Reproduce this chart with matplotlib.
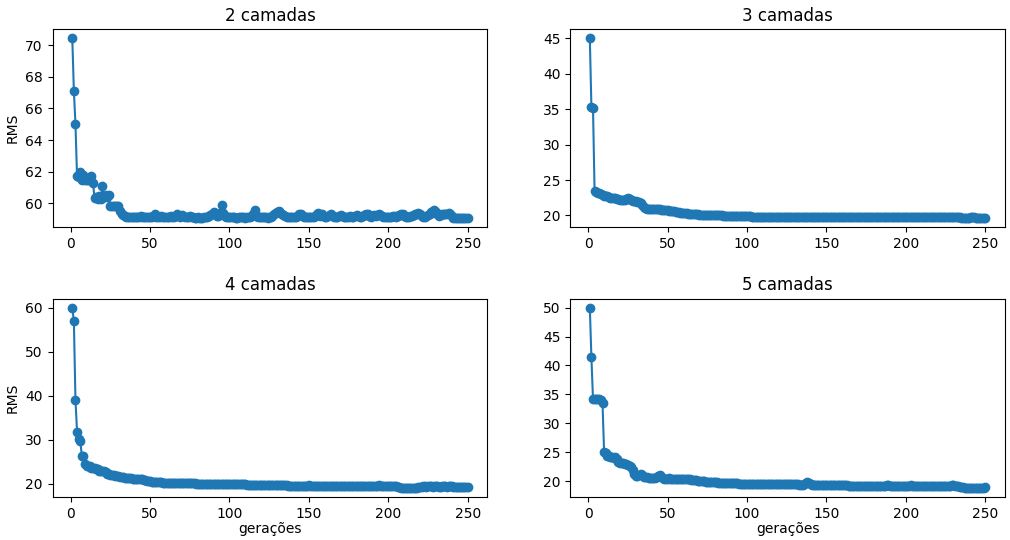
import matplotlib
matplotlib.use("Agg")
import matplotlib.pyplot as plt

geracoes = list(range(1, 251))

titulos = ['2 camadas', '3 camadas', '4 camadas', '5 camadas']

rms_2 = [
    70.45, 67.1, 65.0, 61.7, 61.65, 61.95, 61.5, 61.8, 61.5, 61.45,
    61.5, 61.6, 61.7, 61.3, 60.35, 60.4, 60.3, 60.45, 60.3, 61.1,
    60.4, 60.5, 60.4, 60.5, 59.8, 59.85, 59.8, 59.8, 59.85, 59.8,
    59.5, 59.35, 59.25, 59.2, 59.15, 59.15, 59.15, 59.15, 59.15, 59.15,
    59.15, 59.15, 59.15, 59.2, 59.15, 59.15, 59.15, 59.15, 59.15, 59.15,
    59.15, 59.2, 59.3, 59.15, 59.15, 59.15, 59.2, 59.15, 59.15, 59.15,
    59.15, 59.15, 59.2, 59.15, 59.15, 59.2, 59.3, 59.2, 59.15, 59.25,
    59.2, 59.15, 59.15, 59.15, 59.2, 59.15, 59.15, 59.1, 59.1, 59.15,
    59.1, 59.1, 59.1, 59.15, 59.15, 59.15, 59.2, 59.25, 59.3, 59.45,
    59.3, 59.2, 59.2, 59.4, 59.9, 59.4, 59.2, 59.15, 59.15, 59.15,
    59.15, 59.15, 59.15, 59.1, 59.1, 59.15, 59.15, 59.15, 59.15, 59.1,
    59.15, 59.15, 59.15, 59.2, 59.35, 59.6, 59.2, 59.15, 59.15, 59.15,
    59.15, 59.15, 59.15, 59.1, 59.15, 59.15, 59.2, 59.3, 59.4, 59.45,
    59.5, 59.4, 59.3, 59.25, 59.2, 59.15, 59.15, 59.15, 59.15, 59.15,
    59.15, 59.15, 59.2, 59.3, 59.35, 59.2, 59.15, 59.15, 59.15, 59.15,
    59.15, 59.15, 59.15, 59.2, 59.3, 59.4, 59.2, 59.35, 59.2, 59.15,
    59.15, 59.2, 59.25, 59.3, 59.2, 59.15, 59.15, 59.15, 59.2, 59.25,
    59.2, 59.15, 59.15, 59.15, 59.15, 59.2, 59.15, 59.15, 59.2, 59.25,
    59.2, 59.15, 59.15, 59.2, 59.25, 59.3, 59.3, 59.2, 59.15, 59.2,
    59.25, 59.2, 59.25, 59.3, 59.25, 59.2, 59.15, 59.15, 59.15, 59.15,
    59.15, 59.15, 59.2, 59.2, 59.15, 59.2, 59.25, 59.3, 59.3, 59.2,
    59.15, 59.15, 59.15, 59.2, 59.2, 59.25, 59.3, 59.35, 59.4, 59.3,
    59.2, 59.15, 59.15, 59.2, 59.25, 59.3, 59.45, 59.5, 59.6, 59.45,
    59.3, 59.2, 59.25, 59.3, 59.35, 59.3, 59.35, 59.4, 59.3, 59.2,
    59.05, 59.05, 59.1, 59.05, 59.05, 59.1, 59.05, 59.05, 59.1, 59.05,
]

rms_3 = [
    45.0, 35.3, 35.2, 23.4, 23.3, 23.2, 23.1, 23.0, 22.9, 22.8,
    22.8, 22.7, 22.6, 22.5, 22.5, 22.5, 22.4, 22.3, 22.3, 22.2,
    22.2, 22.2, 22.2, 22.3, 22.4, 22.3, 22.2, 22.1, 22.0, 22.0,
    21.9, 21.9, 21.8, 21.5, 21.2, 21.0, 20.95, 20.9, 20.9, 20.9,
    20.9, 20.9, 20.85, 20.85, 20.85, 20.8, 20.8, 20.8, 20.8, 20.75,
    20.7, 20.7, 20.65, 20.6, 20.55, 20.5, 20.45, 20.4, 20.35, 20.3,
    20.3, 20.3, 20.25, 20.25, 20.2, 20.2, 20.2, 20.15, 20.15, 20.1,
    20.1, 20.1, 20.05, 20.05, 20.05, 20.0, 20.0, 20.0, 20.0, 20.0,
    20.0, 20.0, 20.0, 20.0, 19.95, 19.95, 19.95, 19.95, 19.95, 19.95,
    19.95, 19.95, 19.9, 19.9, 19.9, 19.9, 19.9, 19.9, 19.9, 19.9,
    19.9, 19.9, 19.85, 19.85, 19.85, 19.85, 19.85, 19.85, 19.85, 19.85,
    19.8, 19.8, 19.8, 19.8, 19.8, 19.8, 19.8, 19.8, 19.8, 19.8,
    19.8, 19.8, 19.8, 19.8, 19.8, 19.8, 19.8, 19.8, 19.8, 19.8,
    19.8, 19.8, 19.8, 19.8, 19.8, 19.8, 19.8, 19.8, 19.8, 19.8,
    19.8, 19.8, 19.8, 19.8, 19.8, 19.8, 19.8, 19.8, 19.8, 19.8,
    19.8, 19.8, 19.8, 19.8, 19.8, 19.8, 19.8, 19.8, 19.8, 19.8,
    19.8, 19.8, 19.8, 19.8, 19.8, 19.8, 19.8, 19.8, 19.8, 19.8,
    19.8, 19.8, 19.8, 19.8, 19.8, 19.8, 19.8, 19.8, 19.8, 19.8,
    19.8, 19.8, 19.8, 19.8, 19.8, 19.8, 19.8, 19.8, 19.8, 19.8,
    19.8, 19.8, 19.8, 19.8, 19.8, 19.8, 19.8, 19.8, 19.8, 19.8,
    19.8, 19.8, 19.8, 19.8, 19.8, 19.8, 19.8, 19.8, 19.8, 19.8,
    19.8, 19.8, 19.8, 19.8, 19.8, 19.8, 19.8, 19.8, 19.8, 19.8,
    19.8, 19.8, 19.8, 19.8, 19.8, 19.8, 19.8, 19.8, 19.8, 19.8,
    19.8, 19.8, 19.8, 19.75, 19.7, 19.6, 19.6, 19.6, 19.65, 19.6,
    19.75, 19.8, 19.75, 19.7, 19.7, 19.7, 19.7, 19.7, 19.7, 19.7,
]

rms_4 = [
    60.0, 56.9, 39.0, 31.8, 30.2, 29.8, 26.4, 26.4, 24.5, 24.1,
    24.1, 24.0, 23.6, 23.6, 23.5, 23.4, 23.3, 23.0, 23.0, 22.9,
    22.9, 22.6, 22.3, 22.2, 22.1, 22.0, 21.9, 21.8, 21.7, 21.7,
    21.6, 21.5, 21.5, 21.4, 21.4, 21.3, 21.3, 21.3, 21.2, 21.2,
    21.2, 21.1, 21.1, 21.0, 21.0, 20.9, 20.8, 20.7, 20.6, 20.6,
    20.5, 20.5, 20.4, 20.4, 20.4, 20.4, 20.35, 20.3, 20.3, 20.3,
    20.3, 20.3, 20.3, 20.25, 20.25, 20.2, 20.2, 20.2, 20.2, 20.2,
    20.15, 20.15, 20.1, 20.1, 20.1, 20.1, 20.1, 20.1, 20.05, 20.05,
    20.05, 20.05, 20.05, 20.05, 20.0, 20.0, 20.0, 20.0, 20.0, 20.0,
    20.0, 20.0, 20.0, 20.0, 20.0, 19.95, 19.95, 19.95, 19.95, 19.95,
    19.95, 19.95, 19.9, 19.9, 19.9, 19.9, 19.9, 19.85, 19.85, 19.85,
    19.8, 19.8, 19.75, 19.75, 19.7, 19.7, 19.7, 19.7, 19.7, 19.7,
    19.7, 19.7, 19.7, 19.7, 19.7, 19.7, 19.7, 19.65, 19.65, 19.65,
    19.65, 19.65, 19.65, 19.65, 19.65, 19.65, 19.6, 19.6, 19.6, 19.6,
    19.6, 19.6, 19.6, 19.6, 19.6, 19.6, 19.6, 19.6, 19.6, 19.65,
    19.6, 19.6, 19.6, 19.6, 19.6, 19.6, 19.6, 19.6, 19.6, 19.6,
    19.6, 19.6, 19.6, 19.6, 19.6, 19.6, 19.6, 19.6, 19.6, 19.6,
    19.6, 19.6, 19.6, 19.6, 19.6, 19.6, 19.6, 19.6, 19.6, 19.6,
    19.6, 19.6, 19.6, 19.6, 19.6, 19.6, 19.6, 19.6, 19.6, 19.6,
    19.6, 19.6, 19.6, 19.65, 19.6, 19.6, 19.6, 19.6, 19.6, 19.6,
    19.6, 19.55, 19.5, 19.5, 19.4, 19.3, 19.2, 19.15, 19.1, 19.1,
    19.1, 19.1, 19.1, 19.1, 19.15, 19.1, 19.1, 19.15, 19.2, 19.3,
    19.35, 19.5, 19.4, 19.3, 19.5, 19.6, 19.4, 19.3, 19.5, 19.6,
    19.4, 19.3, 19.35, 19.5, 19.6, 19.4, 19.3, 19.5, 19.6, 19.4,
    19.3, 19.3, 19.35, 19.3, 19.3, 19.3, 19.25, 19.3, 19.3, 19.3,
]

rms_5 = [
    50.0, 41.4, 34.2, 34.2, 34.2, 34.2, 34.2, 34.1, 33.5, 25.0,
    24.9, 24.3, 24.3, 24.2, 24.1, 24.0, 24.1, 23.9, 23.3, 23.2,
    23.2, 23.1, 23.0, 23.0, 22.8, 22.6, 22.4, 22.0, 21.2, 20.9,
    20.9, 21.0, 21.3, 21.0, 20.8, 20.7, 20.7, 20.6, 20.6, 20.6,
    20.6, 20.6, 20.7, 20.9, 21.0, 20.7, 20.5, 20.4, 20.4, 20.4,
    20.5, 20.4, 20.4, 20.45, 20.4, 20.4, 20.4, 20.35, 20.35, 20.3,
    20.3, 20.3, 20.3, 20.3, 20.25, 20.2, 20.2, 20.15, 20.1, 20.1,
    20.0, 20.0, 19.95, 19.9, 19.9, 19.85, 19.85, 19.8, 19.8, 19.8,
    19.8, 19.75, 19.75, 19.7, 19.7, 19.7, 19.7, 19.65, 19.65, 19.6,
    19.6, 19.6, 19.6, 19.6, 19.55, 19.55, 19.55, 19.55, 19.55, 19.55,
    19.55, 19.55, 19.55, 19.55, 19.55, 19.5, 19.5, 19.5, 19.5, 19.5,
    19.5, 19.5, 19.5, 19.5, 19.5, 19.5, 19.5, 19.5, 19.5, 19.5,
    19.5, 19.5, 19.45, 19.45, 19.45, 19.45, 19.45, 19.45, 19.45, 19.45,
    19.45, 19.45, 19.4, 19.4, 19.4, 19.45, 19.6, 19.8, 19.7, 19.5,
    19.4, 19.4, 19.4, 19.4, 19.35, 19.35, 19.35, 19.35, 19.35, 19.35,
    19.35, 19.35, 19.3, 19.3, 19.3, 19.3, 19.3, 19.3, 19.3, 19.3,
    19.3, 19.3, 19.25, 19.2, 19.1, 19.1, 19.1, 19.1, 19.1, 19.1,
    19.1, 19.1, 19.1, 19.1, 19.1, 19.1, 19.1, 19.1, 19.1, 19.1,
    19.1, 19.1, 19.1, 19.1, 19.1, 19.15, 19.2, 19.25, 19.3, 19.2,
    19.1, 19.1, 19.1, 19.1, 19.1, 19.1, 19.1, 19.1, 19.1, 19.1,
    19.1, 19.2, 19.3, 19.2, 19.1, 19.1, 19.1, 19.1, 19.1, 19.1,
    19.1, 19.1, 19.1, 19.1, 19.1, 19.1, 19.1, 19.1, 19.1, 19.1,
    19.1, 19.1, 19.1, 19.1, 19.1, 19.1, 19.15, 19.2, 19.25, 19.3,
    19.2, 19.1, 19.1, 19.05, 19.0, 18.95, 18.85, 18.85, 18.85, 18.85,
    18.85, 18.85, 18.85, 18.85, 18.85, 18.85, 18.9, 18.85, 18.9, 19.05,
]

series = [rms_2, rms_3, rms_4, rms_5]

fig, axs = plt.subplots(2, 2, figsize=(10.1, 5.4), dpi=100)
fig.subplots_adjust(left=0.052, right=0.995, top=0.946, bottom=0.08,
                    wspace=0.19, hspace=0.36)

for ax, titulo, rms in zip(axs.flat, titulos, series):
    ax.plot(geracoes, rms, '-o')
    ax.set_title(titulo)

axs[0, 0].set_ylabel('RMS')
axs[1, 0].set_ylabel('RMS')
axs[1, 0].set_xlabel('gerações', labelpad=1)
axs[1, 1].set_xlabel('gerações', labelpad=1)

fig.savefig('out.png')
